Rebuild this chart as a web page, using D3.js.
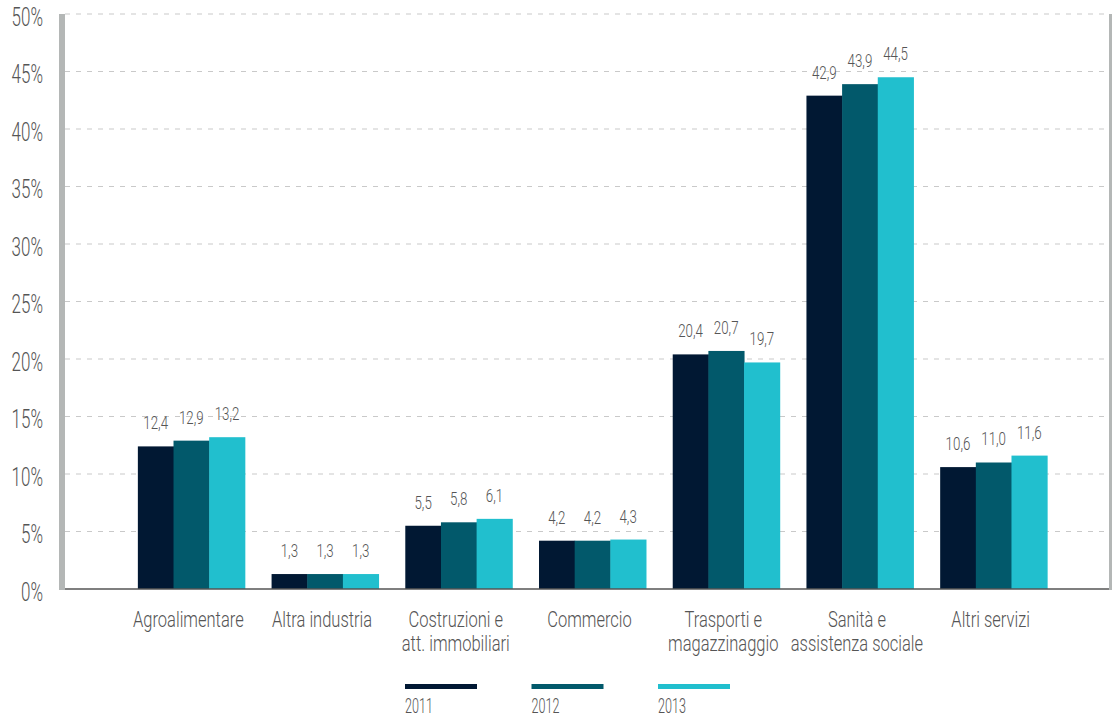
<!DOCTYPE html>
<html>
<head>
<meta charset="utf-8">
<script src="https://cdn.jsdelivr.net/npm/d3@7"></script>
<style>
  html, body { margin: 0; padding: 0; background: #fff; }
  svg { display: block; font-family: "Roboto", "DejaVu Sans", sans-serif; font-weight: 300; }
  text { fill: #555; }
</style>
</head>
<body>
<div id="chart"></div>
<script>
// Data
const categories = [
  ["Agroalimentare"],
  ["Altra industria"],
  ["Costruzioni e", "att. immobiliari"],
  ["Commercio"],
  ["Trasporti e", "magazzinaggio"],
  ["Sanità e", "assistenza sociale"],
  ["Altri servizi"]
];
const years = ["2011", "2012", "2013"];
const values2011 = [12.4, 1.3, 5.5, 4.2, 20.4, 42.9, 10.6];
const values2012 = [12.9, 1.3, 5.8, 4.2, 20.7, 43.9, 11.0];
const values2013 = [13.2, 1.3, 6.1, 4.3, 19.7, 44.5, 11.6];
const yTicks = [0, 5, 10, 15, 20, 25, 30, 35, 40, 45, 50];
const colors = ["#011833", "#02596b", "#21bfce"];

const series = [values2011, values2012, values2013];
const W = 1113, H = 718;
const plot = { left: 65, right: 1109, top: 14, bottom: 589 };

// the original uses a condensed face: squeeze text horizontally
function squeeze(sel, sx) {
  sel.each(function() {
    const t = d3.select(this);
    const x = +t.attr("x") || 0;
    t.attr("x", x / sx).attr("transform", `scale(${sx},1)`);
    t.selectAll("tspan").each(function() {
      const ts = d3.select(this);
      if (ts.attr("x") !== null) ts.attr("x", +ts.attr("x") / sx);
    });
  });
}

const svg = d3.select("#chart").append("svg")
  .attr("width", W)
  .attr("height", H);

const y = d3.scaleLinear().domain([0, 50]).range([plot.bottom, plot.top]);
const x0 = d3.scaleBand()
  .domain(d3.range(categories.length))
  .range([71, 1114])
  .paddingInner(0.2)
  .paddingOuter(0.5);
const x1 = d3.scaleBand().domain(years).range([0, x0.bandwidth()]);
const color = d3.scaleOrdinal().domain(years).range(colors);

// gridlines
svg.append("g")
  .selectAll("line")
  .data(yTicks.filter(d => d > 0))
  .join("line")
    .attr("x1", plot.left)
    .attr("x2", plot.right)
    .attr("y1", d => y(d))
    .attr("y2", d => y(d))
    .attr("stroke", "#c9c9c9")
    .attr("stroke-width", 1)
    .attr("stroke-dasharray", "5,6");

// y axis labels
const yAxis = d3.axisLeft(y).tickValues(yTicks).tickFormat(d => d + "%").tickSize(0).tickPadding(0);
const yg = svg.append("g").attr("transform", "translate(43,0)").call(yAxis);
yg.select(".domain").remove();
yg.attr("font-family", null).attr("font-size", null);
yg.selectAll("text")
  .attr("font-size", 25)
  .attr("dy", "0.45em")
  .attr("fill", "#555")
  .call(squeeze, 0.68);

// bars
const groups = svg.append("g")
  .selectAll("g")
  .data(categories.map((c, i) => i))
  .join("g")
    .attr("transform", i => `translate(${x0(i)},0)`);

const barData = i => years.map((yr, k) => ({ year: yr, value: series[k][i] }));

groups.selectAll("rect")
  .data(barData)
  .join("rect")
    .attr("x", d => x1(d.year))
    .attr("width", x1.bandwidth() + 0.5)
    .attr("y", d => y(d.value))
    .attr("height", d => y(0) - y(d.value))
    .attr("fill", d => color(d.year));

groups.selectAll("text")
  .data(barData)
  .join("text")
    .attr("x", d => x1(d.year) + x1.bandwidth() / 2)
    .attr("y", d => y(d.value) - 17)
    .attr("text-anchor", "middle")
    .attr("font-size", 18)
    .text(d => d3.format(".1f")(d.value).replace(".", ","))
    .call(squeeze, 0.74);

// axis lines
svg.append("line")
  .attr("x1", plot.left).attr("x2", plot.right)
  .attr("y1", plot.bottom).attr("y2", plot.bottom)
  .attr("stroke", "#555").attr("stroke-width", 1.5);
svg.append("rect")
  .attr("x", 59).attr("y", plot.top)
  .attr("width", 6).attr("height", plot.bottom - plot.top + 1)
  .attr("fill", "#b4b7b6");
svg.append("rect")
  .attr("x", 1109).attr("y", plot.top)
  .attr("width", 3).attr("height", plot.bottom - plot.top + 1)
  .attr("fill", "#b4b7b6");

// category labels
svg.append("g")
  .selectAll("text")
  .data(categories)
  .join("text")
    .attr("x", (d, i) => x0(i) + x0.bandwidth() / 2 - 3)
    .attr("y", 627)
    .attr("text-anchor", "middle")
    .attr("font-size", 22)
    .each(function(d) {
      const t = d3.select(this);
      const x = t.attr("x");
      t.selectAll("tspan")
        .data(d)
        .join("tspan")
          .attr("x", x)
          .attr("dy", (s, j) => j === 0 ? 0 : 24)
          .text(s => s);
    })
    .call(squeeze, 0.75);

// legend
const legendX = d3.scalePoint().domain(years).range([405, 658]);
const legend = svg.append("g")
  .selectAll("g")
  .data(years)
  .join("g")
    .attr("transform", d => `translate(${legendX(d)},0)`);
legend.append("rect")
  .attr("y", 684).attr("width", 72).attr("height", 5)
  .attr("fill", d => color(d));
legend.append("text")
  .attr("y", 713)
  .attr("font-size", 21)
  .text(d => d)
  .call(squeeze, 0.6);
</script>
</body>
</html>
